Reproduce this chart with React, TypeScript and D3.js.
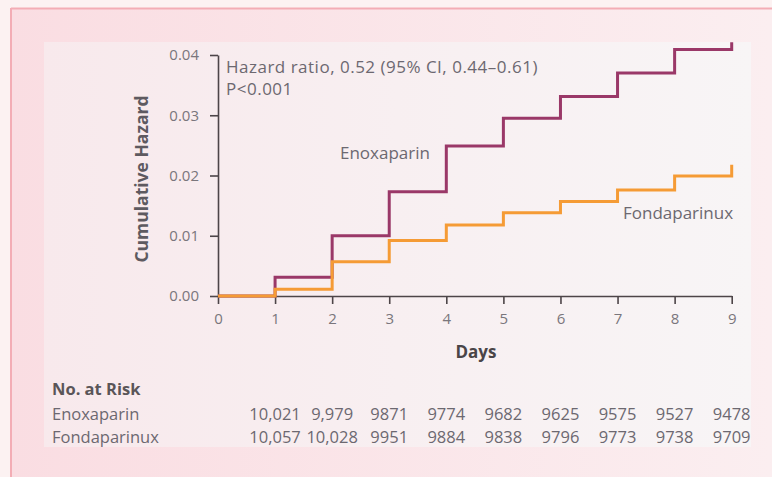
import React, {useEffect, useRef} from 'react'
import * as d3 from 'd3'

// cumulative hazard at the start of each day (step after), last value is the end tick
const days = [0, 1, 2, 3, 4, 5, 6, 7, 8, 9]
const enoxaparin = [0, 0.0031, 0.01, 0.0173, 0.0249, 0.0295, 0.0331, 0.037, 0.0409, 0.0421]
const fondaparinux = [0, 0.0011, 0.0057, 0.0092, 0.0118, 0.0138, 0.0157, 0.0176, 0.0199, 0.0218]
const yTicks = [0, 0.01, 0.02, 0.03, 0.04]

const riskDays = [1, 2, 3, 4, 5, 6, 7, 8, 9]
const riskEnox = ['10,021', '9,979', '9871', '9774', '9682', '9625', '9575', '9527', '9478']
const riskFonda = ['10,057', '10,028', '9951', '9884', '9838', '9796', '9773', '9738', '9709']

const W = 772
const H = 477
const FONT = '"Open Sans", Lato, sans-serif'
const ENOX_COLOR = '#9a3868'
const FONDA_COLOR = '#f59b35'
const TEXT = '#6c6870'

const App = () => {
  const ref = useRef(null)

  const x = d3.scaleLinear().domain([0, 9]).range([218, 731.7])
  const y = d3.scaleLinear().domain([0, 0.04]).range([296, 55])

  useEffect(() => {
    const g = d3.select(ref.current)
    g.selectAll('*').remove()

    const yAxis = g
      .append('g')
      .attr('transform', `translate(${x(0)},0)`)
      .call(
        d3
          .axisLeft(y)
          .tickValues(yTicks)
          .tickFormat(d3.format('.2f'))
          .tickSize(8)
          .tickSizeOuter(0)
      )
    const xAxis = g
      .append('g')
      .attr('transform', `translate(0,${y(0)})`)
      .call(d3.axisBottom(x).tickValues(days).tickFormat(d3.format('d')).tickSize(8).tickSizeOuter(0))

    ;[yAxis, xAxis].forEach((a) => {
      a.selectAll('path, line').attr('stroke', '#4d4548').attr('stroke-width', 1.6)
      a.selectAll('text')
        .attr('fill', '#7a767c')
        .style('font-family', FONT)
        .style('font-size', '15px')
    })
    yAxis.selectAll('text').attr('x', -19)
    xAxis.selectAll('text').attr('dy', null).attr('y', 28)

    const line = d3
      .line()
      .x((d, i) => x(days[i]))
      .y((d) => y(d))
      .curve(d3.curveStepAfter)

    g.append('path')
      .attr('d', line(enoxaparin))
      .attr('fill', 'none')
      .attr('stroke', ENOX_COLOR)
      .attr('stroke-width', 3)
    g.append('path')
      .attr('d', line(fondaparinux))
      .attr('fill', 'none')
      .attr('stroke', FONDA_COLOR)
      .attr('stroke-width', 3)
  }, [])

  const rowLabel = {fontFamily: FONT, fontSize: 16.5, fill: TEXT}
  const note = {fontFamily: FONT, fontSize: 17, fill: TEXT}
  const hr = {fontFamily: FONT, fontSize: 17, fill: TEXT, letterSpacing: 0.5}

  return (
    <svg
      width={W}
      height={H}
      style={{position: 'absolute', left: 0, top: 0, display: 'block'}}
    >
      <defs>
        <linearGradient id="frameFill" x1="0" x2="1" y1="0" y2="0">
          <stop offset="0" stopColor="#fadde2" />
          <stop offset="1" stopColor="#fbeef0" />
        </linearGradient>
        <linearGradient id="innerFill" x1="0" x2="1" y1="0" y2="0">
          <stop offset="0" stopColor="#f8e9ec" />
          <stop offset="1" stopColor="#f8f5f6" />
        </linearGradient>
      </defs>
      <rect x={0} y={0} width={W} height={H} fill="#fcf2f2" />
      <rect x={11} y={8} width={W - 11} height={H - 8} fill="url(#frameFill)" />
      <line x1={11} x2={W} y1={8.5} y2={8.5} stroke="#f3adb5" strokeWidth={2} />
      <line x1={11} x2={11} y1={8} y2={H} stroke="#f3adb5" strokeWidth={2} />
      <rect x={44} y={42} width={707} height={405} fill="url(#innerFill)" />

      <g ref={ref} />

      <text
        transform="translate(148,179) rotate(-90)"
        textAnchor="middle"
        style={{fontFamily: FONT, fontSize: 17.5, fontWeight: 'bold', fill: '#5e5a60'}}
      >
        Cumulative Hazard
      </text>
      <text
        x={476}
        y={358}
        textAnchor="middle"
        style={{fontFamily: FONT, fontSize: 17, fontWeight: 'bold', fill: '#4a4548'}}
      >
        Days
      </text>

      <text x={226} y={73} style={hr}>
        Hazard ratio, 0.52 (95% CI, 0.44–0.61)
      </text>
      <text x={226} y={95} style={hr}>
        P&lt;0.001
      </text>
      <text x={340} y={159} style={note}>
        Enoxaparin
      </text>
      <text x={623} y={219} style={note}>
        Fondaparinux
      </text>

      <text x={52} y={395} style={{fontFamily: FONT, fontSize: 16.5, fontWeight: 'bold', fill: '#5a5558'}}>
        No. at Risk
      </text>
      <text x={52} y={420} style={rowLabel}>
        Enoxaparin
      </text>
      <text x={52} y={443} style={rowLabel}>
        Fondaparinux
      </text>
      {riskDays.map((d, i) => (
        <text key={'e' + d} x={x(d)} y={420} textAnchor="middle" style={rowLabel}>
          {riskEnox[i]}
        </text>
      ))}
      {riskDays.map((d, i) => (
        <text key={'f' + d} x={x(d)} y={443} textAnchor="middle" style={rowLabel}>
          {riskFonda[i]}
        </text>
      ))}
    </svg>
  )
}

export default App
